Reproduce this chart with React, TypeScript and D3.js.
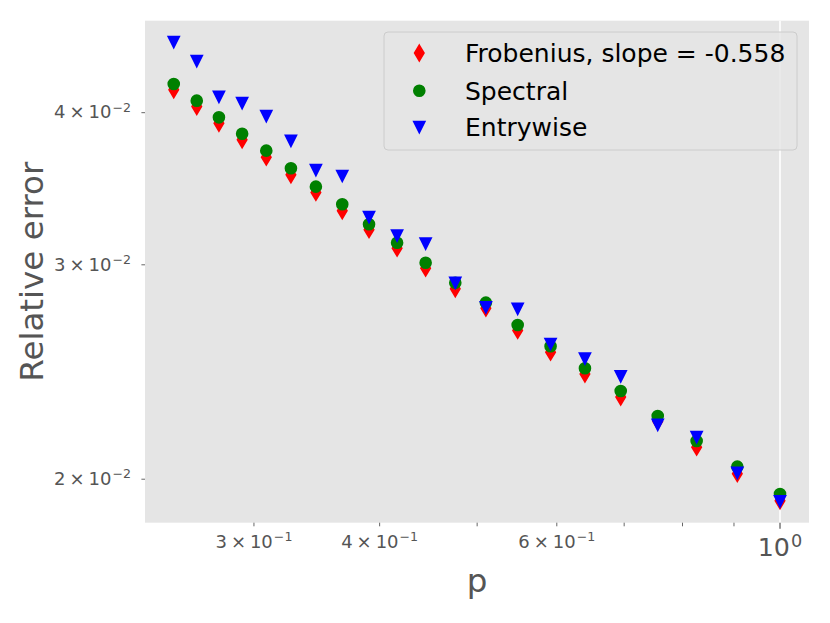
import React from "react";
import * as d3 from "d3";

const pValues = [0.2497, 0.2632, 0.2769, 0.292, 0.3086, 0.3265, 0.3457, 0.3672, 0.3904, 0.4163, 0.4444, 0.4756, 0.5101, 0.5486, 0.5915, 0.6399, 0.6945, 0.7559, 0.8263, 0.9069, 1.0];
const frobenius = [0.04177, 0.04047, 0.03921, 0.038, 0.03677, 0.03557, 0.0344, 0.03323, 0.03206, 0.03096, 0.02981, 0.02867, 0.02764, 0.0265, 0.02543, 0.0244, 0.02336, 0.02231, 0.02125, 0.02021, 0.0192];
const spectral = [0.04223, 0.04092, 0.03965, 0.03844, 0.03723, 0.03601, 0.03478, 0.03364, 0.03239, 0.03128, 0.03012, 0.029, 0.02793, 0.02677, 0.02572, 0.02467, 0.02363, 0.02254, 0.0215, 0.02048, 0.01945];
const entrywise = [0.04572, 0.04411, 0.04121, 0.04074, 0.03975, 0.03792, 0.03589, 0.03549, 0.03284, 0.03171, 0.03123, 0.029, 0.02768, 0.02761, 0.02583, 0.02512, 0.0243, 0.02217, 0.02166, 0.02024, 0.01918];

const seriesNames = ["Frobenius, slope = -0.558", "Spectral", "Entrywise"];
const seriesColors = ["#ff0000", "#008000", "#0000ff"];
const seriesMarkers = ["thin_diamond", "circle", "triangle_down"];

const xDomain = [0.2338, 1.0686];
const yDomain = [0.018421, 0.0476];
const xMajorTicks = [1];
const xMajorLabels = [["10", "0"]];
const xMinorTicks = [0.3, 0.4, 0.5, 0.6, 0.7, 0.8, 0.9];
const xMinorLabels: Record<string, string> = { "0.3": "3", "0.4": "4", "0.6": "6" };
const yMinorTicks = [0.02, 0.03, 0.04];
const yMinorLabels: Record<string, string> = { "0.02": "2", "0.03": "3", "0.04": "4" };

const W = 830, H = 623;
const plot = { left: 145, right: 809, top: 20.7, bottom: 522.7 };
const FONT = "DejaVu Sans, Liberation Sans, sans-serif";
const MS = 10.83; // marker size px

function markerPath(kind: string, s: number): string {
  if (kind === "thin_diamond") {
    const hh = 0.7071 * s, hw = 0.4243 * s;
    return `M0,${-hh}L${hw},0L0,${hh}L${-hw},0Z`;
  }
  if (kind === "triangle_down") {
    const h = s / 2;
    return `M${-h},${-h}L${h},${-h}L0,${h}Z`;
  }
  const r = s / 2;
  return d3.arc()({ innerRadius: 0, outerRadius: r, startAngle: 0, endAngle: 2 * Math.PI } as any) as string;
}

function MathLabel({ x, y, base, mant, exp, size, anchor }: { x: number; y: number; base?: string; mant?: string; exp: string; size: number; anchor: string }) {
  const sup = size * 0.7;
  const rise = size * 0.37;
  return (
    <text x={x} y={y} fontFamily={FONT} fontSize={size} fill="#555555" textAnchor={anchor}>
      {mant ? <tspan>{mant}</tspan> : null}
      {mant ? <tspan dx={size * 0.22}>×</tspan> : null}
      <tspan dx={mant ? size * 0.22 : 0}>{base ?? "10"}</tspan>
      <tspan dx={1} dy={-rise} fontSize={sup}>{exp}</tspan>
    </text>
  );
}

export default function App() {
  const x = d3.scaleLog().domain(xDomain).range([plot.left, plot.right]);
  const y = d3.scaleLog().domain(yDomain).range([plot.bottom, plot.top]);
  const allSeries = [frobenius, spectral, entrywise];

  const legend = { x: 384, y: 32, w: 413, h: 118 };
  const rowYs = [53, 90.7, 127];

  return (
    <svg width={W} height={H} style={{ position: "absolute", left: 0, top: 0 }} xmlns="http://www.w3.org/2000/svg">
      <rect x={0} y={0} width={W} height={H} fill="#ffffff" />
      <rect x={plot.left} y={plot.top} width={plot.right - plot.left} height={plot.bottom - plot.top} fill="#E5E5E5" />
      {xMajorTicks.map((t) => (
        <line key={"g" + t} x1={x(t)} x2={x(t)} y1={plot.top} y2={plot.bottom} stroke="#ffffff" strokeWidth={1.6} />
      ))}
      {allSeries.map((vals, si) => (
        <g key={si}>
          {vals.map((v, i) => (
            <path
              key={i}
              d={markerPath(seriesMarkers[si], MS)}
              transform={`translate(${x(pValues[i])},${y(v)})`}
              fill={seriesColors[si]}
              stroke={seriesColors[si]}
              strokeWidth={1.8}
              strokeLinejoin="miter"
            />
          ))}
        </g>
      ))}
      {xMajorTicks.map((t) => (
        <line key={"xt" + t} x1={x(t)} x2={x(t)} y1={plot.bottom} y2={plot.bottom + 6} stroke="#555555" strokeWidth={1.2} />
      ))}
      {xMinorTicks.map((t) => (
        <line key={"xm" + t} x1={x(t)} x2={x(t)} y1={plot.bottom} y2={plot.bottom + 3.6} stroke="#555555" strokeWidth={0.9} />
      ))}
      {xMajorTicks.map((t, i) => (
        <MathLabel key={"xl" + t} x={x(t)} y={556} base={xMajorLabels[i][0]} exp={xMajorLabels[i][1]} size={25.3} anchor="middle" />
      ))}
      {xMinorTicks.filter((t) => xMinorLabels[String(t)]).map((t) => (
        <MathLabel key={"xml" + t} x={x(t)} y={548} mant={xMinorLabels[String(t)]} exp="−1" size={18} anchor="middle" />
      ))}
      {yMinorTicks.map((t) => (
        <line key={"ym" + t} x1={plot.left - 3.6} x2={plot.left} y1={y(t)} y2={y(t)} stroke="#555555" strokeWidth={0.9} />
      ))}
      {yMinorTicks.map((t) => (
        <MathLabel key={"yml" + t} x={131} y={y(t) + 5.8} mant={yMinorLabels[String(t)]} exp="−2" size={18} anchor="end" />
      ))}
      <text x={(plot.left + plot.right) / 2} y={592} textAnchor="middle" fontFamily={FONT} fontSize={32.5} fill="#555555">p</text>
      <text transform={`translate(43.3,${(plot.top + plot.bottom) / 2}) rotate(-90)`} textAnchor="middle" fontFamily={FONT} fontSize={32.5} fill="#555555">Relative error</text>
      <rect x={legend.x} y={legend.y} width={legend.w} height={legend.h} rx={4} ry={4} fill="#E5E5E5" fillOpacity={0.8} stroke="#cccccc" strokeWidth={1} />
      {seriesNames.map((name, i) => (
        <g key={"lg" + i}>
          <path d={markerPath(seriesMarkers[i], MS)} transform={`translate(419.3,${rowYs[i]})`} fill={seriesColors[i]} stroke={seriesColors[i]} strokeWidth={1.8} />
          <text x={465} y={rowYs[i] + 9} fontFamily={FONT} fontSize={25} fill="#000000">{name}</text>
        </g>
      ))}
    </svg>
  );
}
